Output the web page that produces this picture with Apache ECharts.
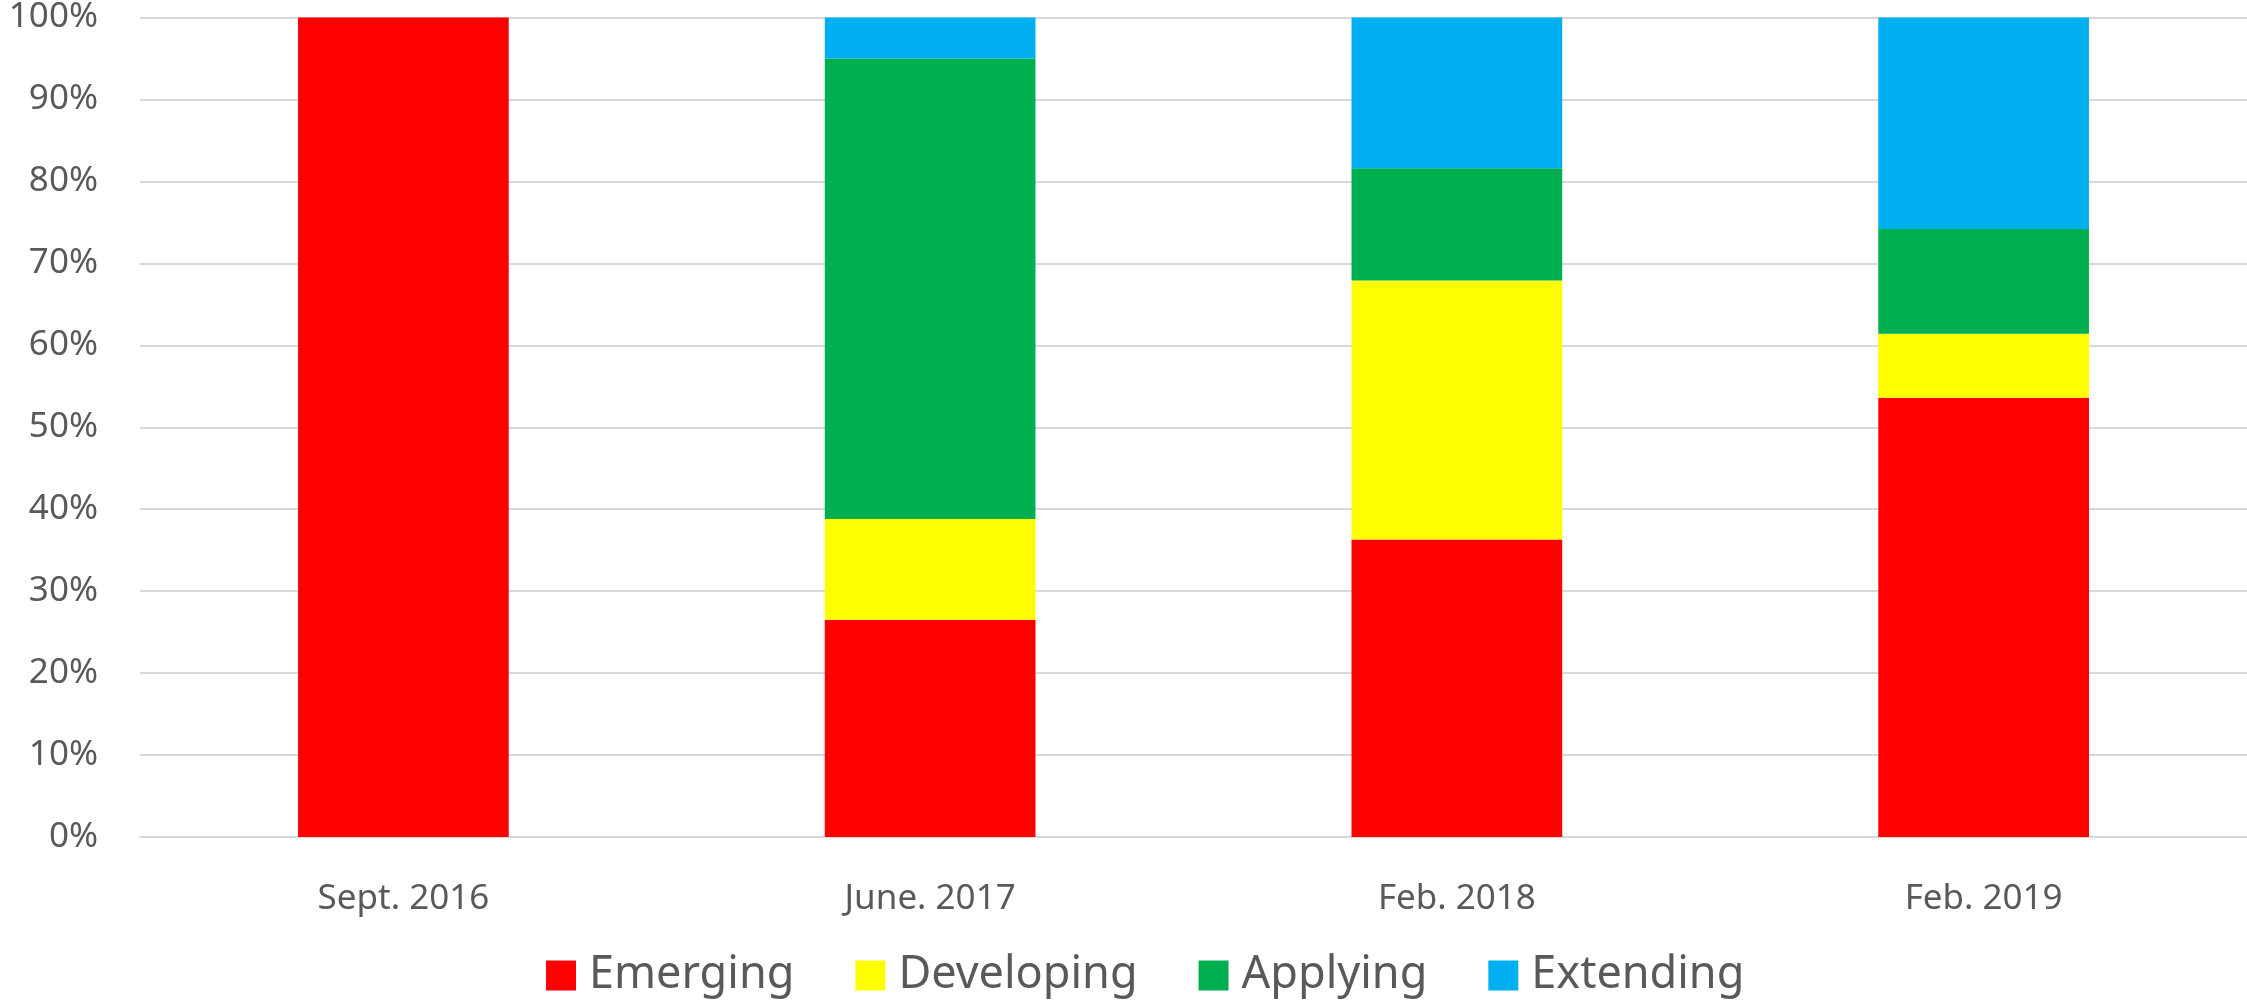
<!DOCTYPE html>
<html>
<head>
<meta charset="utf-8">
<script src="https://cdn.jsdelivr.net/npm/echarts@6/dist/echarts.min.js"></script>
<style>
  html, body { margin: 0; padding: 0; background: #fff; }
  #chart { width: 2247px; height: 1000px; }
</style>
</head>
<body>
<div id="chart"></div>
<script>
// data (percent of each date)
const categories = ['Sept. 2016', 'June. 2017', 'Feb. 2018', 'Feb. 2019'];
const emerging   = [100, 26.5, 36.3, 53.6];
const developing = [0, 12.3, 31.6, 7.8];
const applying   = [0, 56.2, 13.7, 12.8];
const extending  = [0, 5.0, 18.4, 25.8];

const chart = echarts.init(document.getElementById('chart'));
const textColor = '#595959';
const font = 'Noto Sans';

const makeSeries = (name, data, color) => ({
  name: name,
  type: 'bar',
  stack: 'total',
  data: data,
  barWidth: '40%',
  itemStyle: { color: color },
});

const option = {
  animation: false,
  grid: { left: 140, right: 0, top: 15, bottom: 163 },
  legend: {
    top: 948,
    left: 541,
    icon: 'rect',
    itemWidth: 30,
    itemHeight: 30,
    itemGap: 61,
    textStyle: { color: textColor, fontSize: 45, fontFamily: font, padding: [0, 0, 0, 8] },
  },
  xAxis: {
    type: 'category',
    data: categories,
    axisTick: { show: false },
    axisLine: { lineStyle: { color: '#d9d9d9', width: 2 } },
    axisLabel: { color: textColor, fontSize: 35, fontFamily: font, margin: 45 },
  },
  yAxis: {
    type: 'value',
    min: 0,
    max: 100,
    interval: 10,
    axisLine: { show: false },
    axisTick: { show: false },
    splitLine: { lineStyle: { color: '#d9d9d9', width: 2 } },
    axisLabel: { color: textColor, fontSize: 35, fontFamily: font, margin: 42, formatter: '{value}%' },
  },
  series: [
    makeSeries('Emerging', emerging, '#FF0000'),
    makeSeries('Developing', developing, '#FFFF00'),
    makeSeries('Applying', applying, '#00B050'),
    makeSeries('Extending', extending, '#00B0F0'),
  ],
};
chart.setOption(option);
</script>
</body>
</html>
